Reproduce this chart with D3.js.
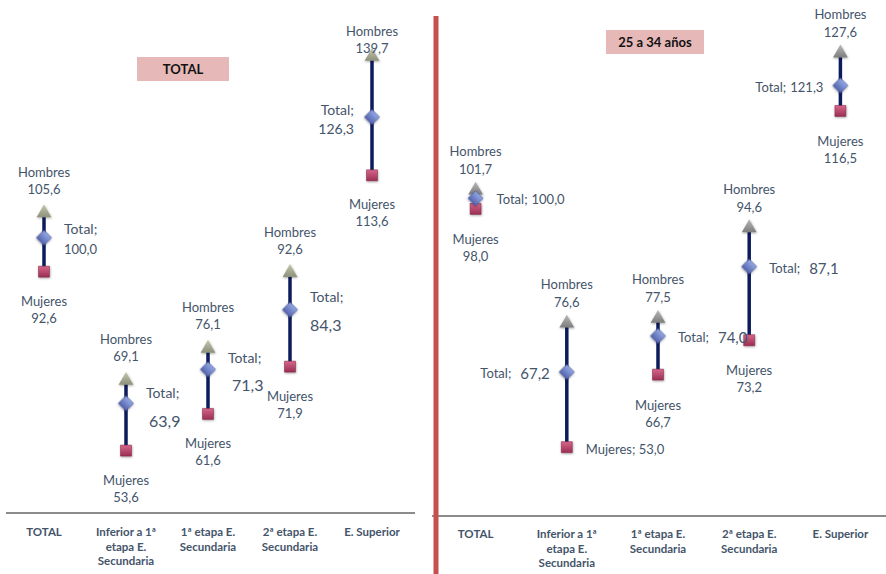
<!DOCTYPE html>
<meta charset="utf-8">
<style>
body { margin: 0; background: #fff; }
svg { font-family: Lato, "Open Sans", sans-serif; }
.lbl { fill: #44546a; font-size: 13px; }
.cat { fill: #44546a; font-size: 11.5px; font-weight: bold; }
.rng { stroke: #0b1b5c; stroke-width: 3.5px; }
.axis path { stroke: #8c8c8c; stroke-width: 2px; }
</style>
<body>
<script src="https://d3js.org/d3.v7.min.js"></script>
<script>
// categories (x axis), with line breaks as in the picture
var categories = ["TOTAL", "Inferior a 1ª etapa E. Secundaria", "1ª etapa E. Secundaria", "2ª etapa E. Secundaria", "E. Superior"];
var catLines = [["TOTAL"], ["Inferior a 1ª", "etapa E.", "Secundaria"], ["1ª etapa E.", "Secundaria"], ["2ª etapa E.", "Secundaria"], ["E. Superior"]];

// left panel: TOTAL
var totHombres = [105.6, 69.1, 76.1, 92.6, 139.7];
var totTotal   = [100.0, 63.9, 71.3, 84.3, 126.3];
var totMujeres = [92.6, 53.6, 61.6, 71.9, 113.6];

// right panel: 25 a 34 años
var jovHombres = [101.7, 76.6, 77.5, 94.6, 127.6];
var jovTotal   = [100.0, 67.2, 74.0, 87.1, 121.3];
var jovMujeres = [98.0, 53.0, 66.7, 73.2, 116.5];

var fmt = function(v) { return d3.format(".1f")(v).replace(".", ","); };

var svg = d3.select("body").append("svg")
    .attr("width", 886)
    .attr("height", 574);

// gradients + soft shadow for the markers
var defs = svg.append("defs");
function grad(id, c1, c2) {
  var g = defs.append("linearGradient").attr("id", id)
      .attr("x1", 0).attr("y1", 0).attr("x2", 0).attr("y2", 1);
  g.append("stop").attr("offset", "0%").attr("stop-color", c1);
  g.append("stop").attr("offset", "100%").attr("stop-color", c2);
}
grad("gTriL", "#c4c6ad", "#8e917a");
grad("gTriR", "#b8b8b8", "#7d7d7d");
grad("gDia", "#93a9e6", "#5564ae");
grad("gSq", "#d7668a", "#9a2e52");
var f = defs.append("filter").attr("id", "sh")
    .attr("x", "-50%").attr("y", "-50%").attr("width", "200%").attr("height", "200%");
f.append("feDropShadow").attr("dx", 0.5).attr("dy", 1).attr("stdDeviation", 1)
    .attr("flood-color", "#000").attr("flood-opacity", 0.35);

var tri = d3.symbol().type(d3.symbolTriangle).size(95);
var dia = d3.symbol().type(d3.symbolSquare).size(112);
var sq  = d3.symbol().type(d3.symbolSquare).size(121);

// label placement for the "Total" labels (left panel: two lines, right: one line)
var totPlace = [
  {dx: 20, anchor: "start", dy1: -9,  dy2: 11, dx2: 20, big: 13},
  {dx: 20, anchor: "start", dy1: -11, dy2: 17, dx2: 23, big: 16},
  {dx: 20, anchor: "start", dy1: -12, dy2: 15, dx2: 24, big: 16},
  {dx: 20, anchor: "start", dy1: -13, dy2: 15, dx2: 20, big: 16},
  {dx: -18, anchor: "end",  dy1: -8,  dy2: 11, dx2: -18, big: 14}
];
var jovPlace = [
  {dx: 21, anchor: "start", big: 13, gap: 4},
  {dx: -17, anchor: "end", big: 15, gap: 9},
  {dx: 20, anchor: "start", big: 15, gap: 9},
  {dx: 20, anchor: "start", big: 15, gap: 9},
  {dx: -17, anchor: "end", big: 13, gap: 4}
];

function panel(opt) {
  var x = d3.scaleBand().domain(categories).range(opt.xr);
  var y = d3.scaleLinear().domain([40, 140]).range(opt.yr);
  var cx = function(i) { return x(categories[i]) + x.bandwidth() / 2; };
  var g = svg.append("g");

  // axis line, no ticks
  g.append("g").attr("class", "axis")
      .attr("transform", "translate(0," + opt.yr[0] + ")")
      .call(d3.axisBottom(x).tickSize(0).tickSizeOuter(0).tickFormat(""))
      .call(function(a) { a.select(".domain").attr("d", "M" + opt.axisX[0] + ",0H" + opt.axisX[1]); });

  // category labels
  catLines.forEach(function(lines, i) {
    var t = g.append("text").attr("class", "cat")
        .attr("text-anchor", "middle")
        .attr("x", cx(i)).attr("y", opt.yr[0] + opt.catY);
    lines.forEach(function(s, k) {
      t.append("tspan").attr("x", cx(i)).attr("dy", k === 0 ? 0 : 14.5).text(s);
    });
  });

  // range lines
  categories.forEach(function(c, i) {
    g.append("line").attr("class", "rng")
        .attr("x1", cx(i)).attr("x2", cx(i))
        .attr("y1", y(opt.h[i])).attr("y2", y(opt.m[i]));
  });

  // markers
  categories.forEach(function(c, i) {
    g.append("path").attr("d", sq)
        .attr("transform", "translate(" + cx(i) + "," + y(opt.m[i]) + ")")
        .attr("fill", "url(#gSq)").attr("stroke", "#7a2440").attr("stroke-width", 0.5)
        .attr("filter", "url(#sh)");
    g.append("path").attr("d", tri)
        .attr("transform", "translate(" + cx(i) + "," + (y(opt.h[i]) + 1) + ")")
        .attr("fill", "url(#" + opt.tri + ")")
        .attr("filter", "url(#sh)");
    g.append("path").attr("d", dia)
        .attr("transform", "translate(" + cx(i) + "," + y(opt.t[i]) + ") rotate(45)")
        .attr("fill", "url(#gDia)").attr("stroke", "#3d4a8a").attr("stroke-width", 0.5)
        .attr("filter", "url(#sh)");
  });

  // Hombres labels (kept inside the plot area at the top)
  categories.forEach(function(c, i) {
    var ly = Math.max(y(opt.h[i]) + opt.hOff[0], opt.topY);
    g.append("text").attr("class", "lbl").attr("text-anchor", "middle")
        .attr("dominant-baseline", "central")
        .attr("x", cx(i)).attr("y", ly).text("Hombres");
    g.append("text").attr("class", "lbl").attr("text-anchor", "middle")
        .attr("dominant-baseline", "central")
        .attr("x", cx(i)).attr("y", ly + opt.hOff[1] - opt.hOff[0]).text(fmt(opt.h[i]));
  });

  // Mujeres labels
  categories.forEach(function(c, i) {
    if (opt.mInline === i) {
      g.append("text").attr("class", "lbl").attr("dominant-baseline", "central")
          .attr("x", cx(i) + 19).attr("y", y(opt.m[i]) + 2)
          .text("Mujeres; " + fmt(opt.m[i]));
      return;
    }
    g.append("text").attr("class", "lbl").attr("text-anchor", "middle")
        .attr("dominant-baseline", "central")
        .attr("x", cx(i)).attr("y", y(opt.m[i]) + opt.mOff[0]).text("Mujeres");
    g.append("text").attr("class", "lbl").attr("text-anchor", "middle")
        .attr("dominant-baseline", "central")
        .attr("x", cx(i)).attr("y", y(opt.m[i]) + opt.mOff[1]).text(fmt(opt.m[i]));
  });

  // Total labels
  categories.forEach(function(c, i) {
    var p = opt.place[i];
    if (opt.twoLine) {
      g.append("text").attr("class", "lbl").attr("text-anchor", p.anchor)
          .attr("dominant-baseline", "central").style("font-size", "14px")
          .attr("x", cx(i) + p.dx).attr("y", y(opt.t[i]) + p.dy1).text("Total;");
      g.append("text").attr("class", "lbl").attr("text-anchor", p.anchor)
          .attr("dominant-baseline", "central").style("font-size", p.big + "px")
          .attr("x", cx(i) + p.dx2).attr("y", y(opt.t[i]) + p.dy2).text(fmt(opt.t[i]));
    } else {
      var t = g.append("text").attr("class", "lbl").attr("text-anchor", p.anchor)
          .attr("dominant-baseline", "central")
          .attr("x", cx(i) + p.dx).attr("y", y(opt.t[i]) + 1);
      t.append("tspan").text("Total;");
      t.append("tspan").attr("dx", p.gap).style("font-size", p.big + "px").text(fmt(opt.t[i]));
    }
  });

  // title box
  g.append("rect").attr("x", opt.box[0]).attr("y", opt.box[1])
      .attr("width", opt.box[2]).attr("height", opt.box[3]).attr("fill", "#e6b9b8");
  g.append("text").attr("x", opt.box[0] + opt.box[2] / 2).attr("y", opt.box[1] + opt.box[3] / 2)
      .attr("text-anchor", "middle").attr("dominant-baseline", "central")
      .style("font-size", "13px").style("font-weight", "bold").style("fill", "#111")
      .text(opt.title);
}

panel({
  xr: [3, 413], yr: [513, 513 - 100 * 4.588],
  axisX: [6, 415], catY: 23, topY: 31,
  h: totHombres, t: totTotal, m: totMujeres, tri: "gTriL",
  hOff: [-40, -23], mOff: [29, 46], place: totPlace, twoLine: true, mInline: -1,
  box: [137, 57, 92, 24], title: "TOTAL"
});

panel({
  xr: [430, 886], yr: [516, 516 - 100 * 5.295],
  axisX: [432, 886], catY: 22, topY: 12,
  h: jovHombres, t: jovTotal, m: jovMujeres, tri: "gTriR",
  hOff: [-38, -20], mOff: [30, 47], place: jovPlace, twoLine: false, mInline: 1,
  box: [606, 30, 98, 24], title: "25 a 34 años"
});

// red divider between panels
svg.append("line")
    .attr("x1", 436).attr("x2", 436).attr("y1", 16).attr("y2", 574)
    .attr("stroke", "#c5504d").attr("stroke-width", 5);
</script>
</body>
